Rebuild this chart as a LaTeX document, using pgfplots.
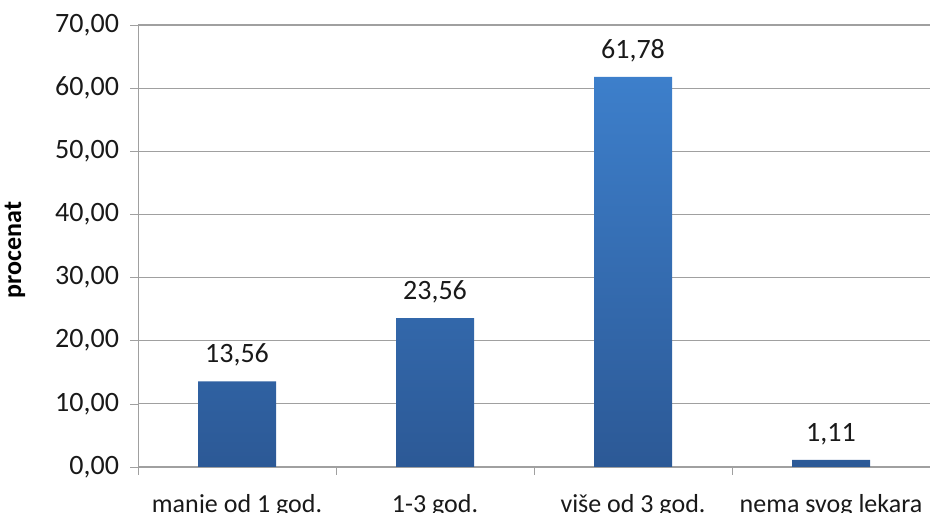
\documentclass[border=0pt]{standalone}
\usepackage{pgfplots}
\pgfplotsset{compat=1.18}
\usepackage{fontspec}
\setmainfont{Carlito}
\definecolor{bartop}{RGB}{61,127,203}
\definecolor{barbot}{RGB}{44,89,150}
\definecolor{gridc}{RGB}{160,160,160}
\begin{document}
\begin{tikzpicture}
\begin{axis}[
  scale only axis,
  width=396pt, height=221pt,
  xmin=-0.5, xmax=3.5, ymin=0, ymax=70,
  ytick={0,10,...,70},
  xtick={0,1,2,3},
  xticklabels={manje od 1 god., 1-3 god., više od 3 god., nema svog lekara},
  minor xtick={-0.5,0.5,1.5,2.5,3.5},
  x tick style={draw=gridc},
  y tick style={draw=gridc},
  major x tick style={draw=none},
  tick align=outside,
  major tick length=4pt, minor tick length=4pt,
  axis x line*=bottom, axis y line*=left,
  axis line style={draw=gridc, -},
  ymajorgrids, grid style={draw=gridc, line width=0.6pt},
  /pgf/number format/assume math mode=true,
  yticklabel style={font=\fontsize{14pt}{16pt}\selectfont, text=black!90, xshift=-2pt, /pgf/number format/.cd, fixed, fixed zerofill, precision=2, use comma},
  xticklabel style={font=\fontsize{13pt}{15pt}\selectfont, text=black!90, yshift=-6pt},
  nodes near coords,
  nodes near coords style={font=\fontsize{14pt}{16pt}\selectfont, text=black!90, yshift=4pt,
    /pgf/number format/.cd, fixed, fixed zerofill, precision=2, use comma, assume math mode=true},
]
\addplot[ybar, bar width=39pt, draw=none, top color=bartop, bottom color=barbot]
  coordinates {(0,13.56) (1,23.56) (2,61.78) (3,1.11)};
\coordinate (SW) at (rel axis cs:0,0);
\coordinate (NE) at (rel axis cs:1,1);
\coordinate (ML) at (rel axis cs:0,0.5);
\end{axis}
\node[rotate=90, font=\fontsize{13pt}{15pt}\selectfont\bfseries] at ([xshift=-61.5pt,yshift=-2pt]ML) {procenat};
\pgfresetboundingbox
\path ([shift={(-69pt,-23pt)}]SW) rectangle ([shift={(0pt,12.5pt)}]NE);
\end{tikzpicture}
\end{document}
